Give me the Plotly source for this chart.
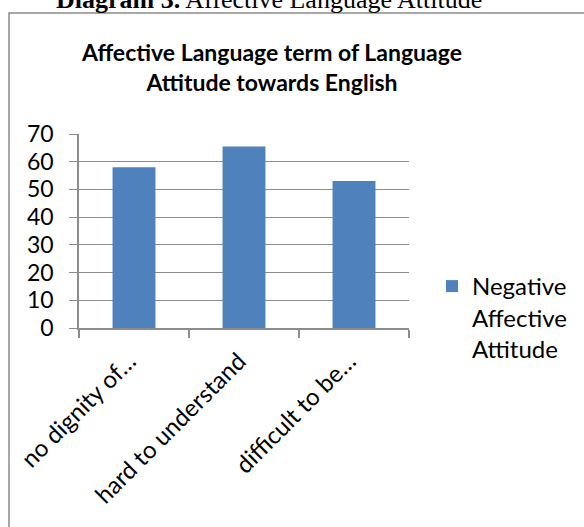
import plotly.graph_objects as go

categories = ["no dignity of…", "hard to understand", "difficult to be…"]
values = [58, 65.5, 53]
series_name = "Negative<br>Affective<br>Attitude"
y_ticks = [0, 10, 20, 30, 40, 50, 60, 70]

W, H = 584, 527
L, R, T, B = 79, 409, 134, 328  # plot area in pixels
pw, ph = R - L, B - T

def px(x):
    return (x - L) / pw

def py(y):
    return (B - y) / ph

FONT = "Lato"

fig = go.Figure()
fig.add_trace(go.Bar(
    x=categories, y=values, name=series_name,
    marker=dict(color="#4F81BD", line=dict(width=0)),
    width=0.39, showlegend=True,
))

fig.update_layout(
    width=W, height=H,
    margin=dict(l=L, r=W - R, t=T, b=H - B, pad=0, autoexpand=False),
    paper_bgcolor="white", plot_bgcolor="white",
    font=dict(family=FONT, size=22, color="black"),
    title=dict(
        text="<b>Affective Language term of Language<br>Attitude towards English</b>",
        x=px(272), xref="paper", xanchor="center",
        y=1 - 61 / H, yref="container", yanchor="middle",
        font=dict(family=FONT, size=23, color="black"),
        automargin=False,
    ),
    xaxis=dict(
        type="category", showgrid=False, automargin=False,
        showline=True, linecolor="#8c8c8c", linewidth=1.5,
        ticks="outside", tickson="boundaries", ticklen=8, tickcolor="#8c8c8c", tickwidth=1.5,
        tickangle=-45, tickfont=dict(size=24), ticklabelshift=-5, ticklabelstandoff=8,
    ),
    yaxis=dict(
        range=[0, 70], tickvals=y_ticks, showgrid=True, gridcolor="#8c8c8c", gridwidth=1.2,
        automargin=False,
        showline=True, linecolor="#8c8c8c", linewidth=1.5,
        ticks="outside", ticklen=8, tickcolor="#8c8c8c", tickwidth=1.2,
        tickfont=dict(size=23), ticklabelstandoff=11, zeroline=False,
    ),
    legend=dict(
        x=px(432), xanchor="left", y=py(264), yanchor="top",
        valign="top", font=dict(size=24), bgcolor="rgba(0,0,0,0)",
        itemwidth=30, tracegroupgap=0,
    ),
    annotations=[dict(
        text="<b>Diagram 3.</b> Affective Language Attitude",
        xref="paper", yref="paper", x=px(269), y=py(-1), xanchor="center", yanchor="middle",
        showarrow=False, font=dict(family="Liberation Serif", size=26, color="black"),
    )],
    shapes=[dict(
        type="rect", xref="paper", yref="paper",
        x0=px(9), x1=px(620), y0=py(560), y1=py(13),
        line=dict(color="#8c8c8c", width=1.5), fillcolor="rgba(0,0,0,0)", layer="below",
    )],
)

fig.write_html(
    "out.html",
    config={"displayModeBar": False},
    post_script="document.body.style.margin='0';document.body.style.padding='0';document.body.style.overflow='hidden';",
)
